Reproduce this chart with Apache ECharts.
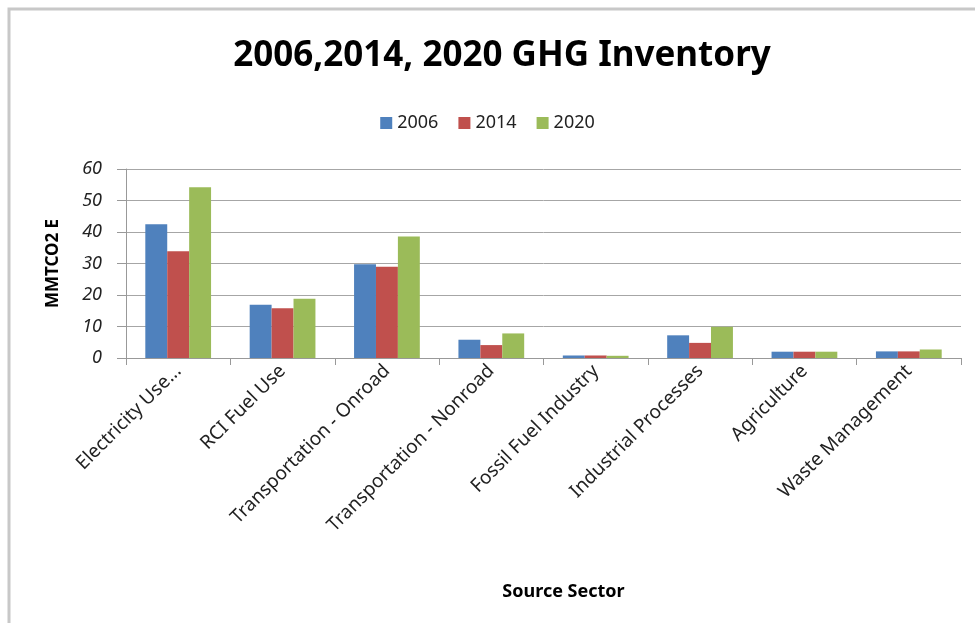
<!DOCTYPE html>
<html>
<head>
<meta charset="utf-8">
<script src="https://cdn.jsdelivr.net/npm/echarts@6/dist/echarts.min.js"></script>
<style>
  html, body { margin: 0; padding: 0; background: #fff; }
  #main { width: 975px; height: 623px; }
</style>
</head>
<body>
<div id="main"></div>
<script>
    var sectors = ['Electricity Use...', 'RCI Fuel Use', 'Transportation - Onroad', 'Transportation - Nonroad',
        'Fossil Fuel Industry', 'Industrial Processes', 'Agriculture', 'Waste Management'];
    var years = ['2006', '2014', '2020'];
    var v2006 = [42.5, 16.9, 29.8, 5.8, 0.8, 7.2, 2.0, 2.1];
    var v2014 = [33.9, 15.8, 29.0, 4.1, 0.8, 4.8, 2.0, 2.1];
    var v2020 = [54.2, 18.8, 38.6, 7.8, 0.7, 9.9, 2.0, 2.7];
    var yTicks = [0, 10, 20, 30, 40, 50, 60];

    var colors = ['#4f81bd', '#c0504d', '#9bbb59'];
    var font = 'Noto Sans';

    var chart = echarts.init(document.getElementById('main'));
    var option = {
        animation: false,
        color: colors,
        graphic: [{
            type: 'rect',
            shape: { x: 9, y: 9, width: 1000, height: 700 },
            style: { fill: 'none', stroke: '#c8c8c8', lineWidth: 3 },
            silent: true
        }],
        title: {
            text: '2006,2014, 2020 GHG Inventory',
            left: 497,
            textAlign: 'center',
            top: 34,
            textStyle: { fontFamily: font, fontSize: 35, fontWeight: 'bold', color: '#000' }
        },
        legend: {
            data: years,
            top: 109,
            left: 'center',
            itemWidth: 12,
            itemHeight: 12,
            itemGap: 20,
            icon: 'rect',
            textStyle: { fontFamily: font, fontSize: 18, color: '#222' }
        },
        grid: {
            left: 126,
            right: 14,
            top: 169,
            bottom: 265,
            containLabel: false
        },
        xAxis: {
            type: 'category',
            data: sectors,
            name: 'Source Sector',
            nameLocation: 'middle',
            nameGap: 225,
            nameTextStyle: { fontFamily: font, fontSize: 18, fontWeight: 'bold', color: '#000', padding: [0, 0, 0, 40] },
            axisLine: { lineStyle: { color: '#999', width: 1 } },
            axisTick: { show: true, length: 7, lineStyle: { color: '#999' } },
            axisLabel: {
                rotate: 45,
                interval: 0,
                margin: 10,
                fontFamily: font,
                fontSize: 19,
                color: '#222'
            }
        },
        yAxis: {
            type: 'value',
            min: 0,
            max: 60,
            interval: 10,
            name: 'MMTCO2 E',
            nameLocation: 'middle',
            nameGap: 64,
            nameRotate: 90,
            nameTextStyle: { fontFamily: font, fontSize: 17, fontWeight: 'bold', color: '#000' },
            axisLine: { show: true, lineStyle: { color: '#999' } },
            axisTick: { show: true, length: 9, lineStyle: { color: '#999' } },
            axisLabel: {
                margin: 24,
                fontFamily: font,
                fontSize: 18,
                fontStyle: 'italic',
                color: '#222',
                formatter: function (v) { return yTicks.indexOf(v) >= 0 ? String(v) : ''; }
            },
            splitLine: { lineStyle: { color: '#a6a6a6', width: 1 } }
        },
        series: [
            { name: years[0], type: 'bar', data: v2006, barGap: '0%', barCategoryGap: '37%' },
            { name: years[1], type: 'bar', data: v2014, barGap: '0%', barCategoryGap: '37%' },
            { name: years[2], type: 'bar', data: v2020, barGap: '0%', barCategoryGap: '37%' }
        ]
    };
    chart.setOption(option);
</script>
</body>
</html>
